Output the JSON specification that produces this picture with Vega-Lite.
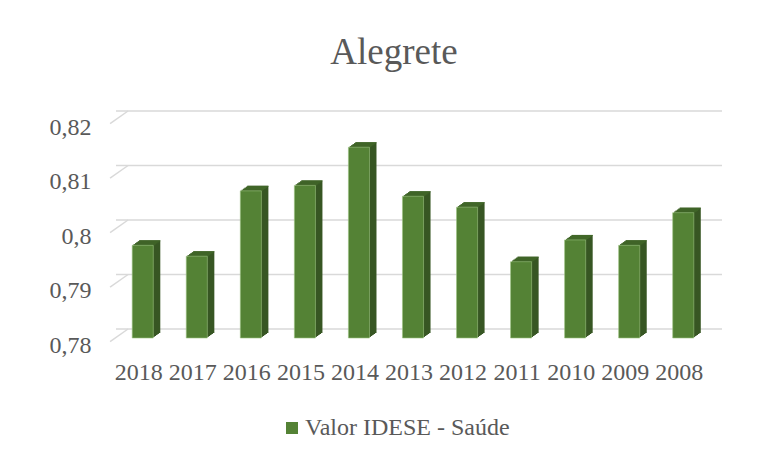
{
  "$schema": "https://vega.github.io/schema/vega-lite/v6.json",
  "width": 594,
  "height": 218,
  "autosize": {"type": "none"},
  "padding": {"left": 116, "top": 120, "right": 57, "bottom": 121},
  "background": "white",
  "title": {
    "text": "Alegrete",
    "font": "Liberation Serif",
    "fontSize": 37,
    "fontWeight": "normal",
    "color": "#595959",
    "anchor": "middle",
    "dx": -19,
    "offset": 38
  },
  "config": {
    "view": {"stroke": null},
    "font": "Liberation Serif",
    "axis": {"labelFont": "Liberation Serif"},
    "legend": {"labelFont": "Liberation Serif"}
  },
  "datasets": {
    "idese": [
      {"ano": "2018", "valor": 0.797, "serie": "Valor IDESE - Saúde"},
      {"ano": "2017", "valor": 0.795, "serie": "Valor IDESE - Saúde"},
      {"ano": "2016", "valor": 0.807, "serie": "Valor IDESE - Saúde"},
      {"ano": "2015", "valor": 0.808, "serie": "Valor IDESE - Saúde"},
      {"ano": "2014", "valor": 0.815, "serie": "Valor IDESE - Saúde"},
      {"ano": "2013", "valor": 0.806, "serie": "Valor IDESE - Saúde"},
      {"ano": "2012", "valor": 0.804, "serie": "Valor IDESE - Saúde"},
      {"ano": "2011", "valor": 0.794, "serie": "Valor IDESE - Saúde"},
      {"ano": "2010", "valor": 0.798, "serie": "Valor IDESE - Saúde"},
      {"ano": "2009", "valor": 0.797, "serie": "Valor IDESE - Saúde"},
      {"ano": "2008", "valor": 0.803, "serie": "Valor IDESE - Saúde"}
    ],
    "grade": [
      {"g": 0.78}, {"g": 0.79}, {"g": 0.80}, {"g": 0.81}, {"g": 0.82}
    ]
  },
  "encoding": {
    "x": {
      "field": "ano",
      "type": "nominal",
      "sort": null,
      "scale": {"paddingInner": 0.61, "paddingOuter": 0.3},
      "axis": {
        "title": null,
        "labelAngle": 0,
        "domain": false,
        "ticks": false,
        "labelFont": "Liberation Serif",
        "labelFontSize": 24,
        "labelColor": "#595959",
        "labelPadding": 22,
        "labelOffset": -4
      }
    }
  },
  "layer": [
    {
      "data": {"name": "grade"},
      "mark": {"type": "rule", "color": "#d9d9d9", "strokeWidth": 1.5, "xOffset": 12, "x2Offset": 12, "yOffset": -9},
      "encoding": {
        "x": null,
        "y": {
          "field": "g",
          "type": "quantitative",
          "scale": {"domain": [0.78, 0.82], "zero": false, "nice": false},
          "axis": {
            "title": null,
            "values": [0.78, 0.79, 0.8, 0.81, 0.82],
            "labelExpr": "replace(format(datum.value, '.2~f'), '.', ',')",
            "domain": false,
            "ticks": false,
            "grid": false,
            "labelFont": "Liberation Serif",
            "labelFontSize": 24,
            "labelColor": "#595959",
            "labelPadding": 25,
            "labelOffset": 7
          }
        }
      }
    },
    {
      "data": {"name": "grade"},
      "mark": {"type": "rule", "color": "#d9d9d9", "strokeWidth": 1.5, "xOffset": -32.7, "x2Offset": -14.7, "yOffset": 3.7, "y2Offset": -9},
      "encoding": {
        "x": {"datum": "2018"},
        "x2": {"datum": "2018"},
        "y": {"field": "g", "type": "quantitative"},
        "y2": {"field": "g"}
      }
    },
    {
      "data": {"name": "idese"},
      "layer": [
        {"mark": {"type": "bar", "color": "#375623", "xOffset": 1.4, "yOffset": -1, "y2Offset": -1}, "encoding": {"y": {"field": "valor", "type": "quantitative"}, "y2": {"datum": 0.78}}},
        {"mark": {"type": "bar", "color": "#375623", "xOffset": 2.8, "yOffset": -2, "y2Offset": -2}, "encoding": {"y": {"field": "valor", "type": "quantitative"}, "y2": {"datum": 0.78}}},
        {"mark": {"type": "bar", "color": "#375623", "xOffset": 4.2, "yOffset": -3, "y2Offset": -3}, "encoding": {"y": {"field": "valor", "type": "quantitative"}, "y2": {"datum": 0.78}}},
        {"mark": {"type": "bar", "color": "#375623", "xOffset": 5.6, "yOffset": -4, "y2Offset": -4}, "encoding": {"y": {"field": "valor", "type": "quantitative"}, "y2": {"datum": 0.78}}},
        {"mark": {"type": "bar", "color": "#375623", "xOffset": 7, "yOffset": -5, "y2Offset": -5}, "encoding": {"y": {"field": "valor", "type": "quantitative"}, "y2": {"datum": 0.78}}},
        {"mark": {"type": "bar", "color": "#43692a", "xOffset": 1.4, "yOffset": -1, "y2Offset": 0}, "encoding": {"y": {"field": "valor", "type": "quantitative"}, "y2": {"field": "valor"}}},
        {"mark": {"type": "bar", "color": "#43692a", "xOffset": 2.8, "yOffset": -2, "y2Offset": -1}, "encoding": {"y": {"field": "valor", "type": "quantitative"}, "y2": {"field": "valor"}}},
        {"mark": {"type": "bar", "color": "#43692a", "xOffset": 4.2, "yOffset": -3, "y2Offset": -2}, "encoding": {"y": {"field": "valor", "type": "quantitative"}, "y2": {"field": "valor"}}},
        {"mark": {"type": "bar", "color": "#43692a", "xOffset": 5.6, "yOffset": -4, "y2Offset": -3}, "encoding": {"y": {"field": "valor", "type": "quantitative"}, "y2": {"field": "valor"}}},
        {"mark": {"type": "bar", "color": "#43692a", "xOffset": 7, "yOffset": -5, "y2Offset": -4}, "encoding": {"y": {"field": "valor", "type": "quantitative"}, "y2": {"field": "valor"}}},
        {
          "mark": {"type": "bar", "stroke": "#9cc281", "strokeWidth": 0.6},
          "encoding": {
            "y": {"field": "valor", "type": "quantitative"},
            "y2": {"datum": 0.78},
            "color": {
              "field": "serie",
              "type": "nominal",
              "scale": {"range": ["#548235"]},
              "legend": {
                "title": null,
                "orient": "none",
                "legendX": 164,
                "legendY": 296,
                "symbolType": "square",
                "symbolSize": 144,
                "symbolStrokeWidth": 0,
                "labelOffset": 1,
                "labelFont": "Liberation Serif",
                "labelFontSize": 24,
                "labelColor": "#595959",
                "labelLimit": 400
              }
            }
          }
        }
      ]
    }
  ]
}
